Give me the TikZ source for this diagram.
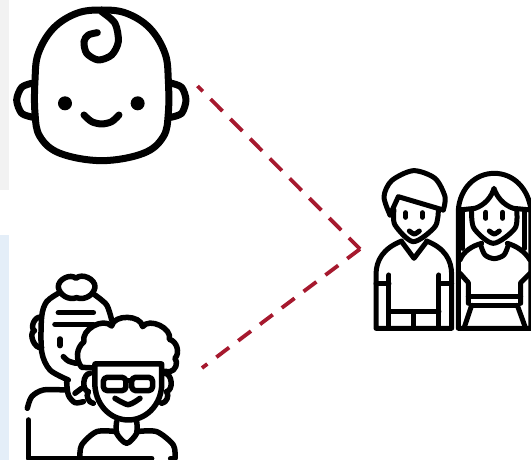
\documentclass[tikz,border=0pt]{standalone}
\usetikzlibrary{calc}
\definecolor{linkred}{HTML}{A6192E}
\definecolor{panelgrey}{HTML}{F2F2F2}
\definecolor{panelblue}{HTML}{E4EEF8}
\tikzset{
  iconline/.style={line width=#1,line cap=round,line join=round,black},
  iconline/.default=5.5pt,
  linkline/.style={linkred,line width=3.8pt}
}
\begin{document}
\begin{tikzpicture}[x=1pt,y=-1pt]
\useasboundingbox (0,0) rectangle (531,460);
\fill[panelgrey] (0,0) rectangle (9,190);
\fill[panelblue] (0,235) rectangle (9,460);
% baby
\begin{scope}[x=0.3333pt,y=-0.3333pt]
\draw[iconline=7pt] plot[smooth cycle,tension=0.62] coordinates {(105,240) (115,160) (160,85) (230,40) (305,30) (380,40) (450,85) (495,160) (505,240) (505,340) (490,410) (430,460) (305,482) (180,460) (120,410) (105,340)};
\draw[iconline=7pt] plot[smooth] coordinates {(95,250) (65,262) (50,300) (65,340) (100,352)};
\draw[iconline=7pt] plot[smooth] coordinates {(515,250) (545,262) (558,300) (545,340) (512,352)};
\draw[iconline=7pt] plot[smooth] coordinates {(305,35) (345,70) (355,125) (335,165) (295,180) (260,160) (252,125) (265,105) (292,98)};
\fill (195,310) circle (21);
\fill (413,310) circle (21);
\draw[iconline=7pt] plot[smooth] coordinates {(252,345) (275,365) (305,372) (335,365) (357,345)};
\end{scope}
% grandmother and child
\begin{scope}[x=0.3333pt,y=-0.3333pt,yshift=-230pt]
\draw[iconline] (175,172) to[bend left=70] (228,145) to[bend left=70] (285,172) to[bend left=50] (230,203) to[bend left=50] cycle;
\draw[iconline] plot[smooth] coordinates {(175,190) (140,215) (125,260) (125,365) (150,420) (205,450)};
\draw[iconline] plot[smooth] coordinates {(285,195) (320,225) (335,270)};
\draw[iconline] (175,248) -- (280,248);
\draw[iconline] (165,283) -- (280,283);
\draw[iconline] (180,327) -- (180,347);
\draw[iconline] plot[smooth] coordinates {(190,380) (205,393) (228,400)};
\draw[iconline] (122,262) to[bend right=80] (103,302);
\draw[iconline] (103,302) to[bend right=90] (125,352);
\draw[iconline] plot[smooth] coordinates {(82,535) (95,500) (130,480) (195,480)};
\draw[iconline] (85,570) -- (85,685) -- (455,685);
\draw[iconline] (512,685) -- (525,685);
\draw[iconline] plot[smooth] coordinates {(200,455) (205,495) (225,518) (250,515)};
\draw[iconline] (245,475) -- (225,490);
% child hair
\draw[iconline,fill=white] (245,412) to[bend left=45] (252,335) to[bend left=75] (335,288) to[bend left=80] (428,290) to[bend left=80] (508,328) to[bend left=60] (525,385) to[bend left=60] (510,425) -- cycle;
\draw[iconline,fill=white] (285,402) -- (285,470) .. controls (290,530) and (335,570) .. (385,570) .. controls (435,570) and (480,530) .. (485,470) -- (485,402) -- cycle;
\draw[iconline] (270,430) to[bend right=80] (265,485);
\draw[iconline] (265,485) to[bend right=60] (280,520);
\draw[iconline] (495,430) to[bend left=80] (500,485);
\draw[iconline] (500,485) to[bend left=60] (485,520);
\draw[iconline,rounded corners=4pt] (310,442) rectangle (378,482);
\draw[iconline,rounded corners=4pt] (395,442) rectangle (458,482);
\draw[iconline] (378,452) -- (395,452);
\draw[iconline] plot[smooth] coordinates {(345,505) (385,524) (420,505)};
\draw[iconline] plot[smooth] coordinates {(350,575) (350,610) (380,640) (410,610) (410,575)};
\draw[iconline] plot[smooth] coordinates {(240,685) (245,645) (290,605) (350,605)};
\draw[iconline] plot[smooth] coordinates {(410,605) (470,605) (520,645) (525,685)};
\end{scope}
% couple
\begin{scope}[x=0.3333pt,y=-0.3333pt,xshift=360pt,yshift=-160pt]
\draw[iconline=5pt] plot[smooth] coordinates {(90,165) (72,110) (95,62) (160,32) (225,55) (255,110) (250,150)};
\draw[iconline=5pt] (90,165) -- (115,110) -- (250,150);
\draw[iconline=5pt] plot[smooth] coordinates {(102,150) (105,195) (160,245) (225,200) (235,150)};
\draw[iconline=5pt] (137,158) -- (137,172);
\draw[iconline=5pt] (187,158) -- (187,172);
\draw[iconline=5pt] plot[smooth] coordinates {(148,213) (163,222) (178,213)};
\draw[iconline=5pt] (125,243) .. controls (70,265) and (48,300) .. (48,345) -- (48,505) -- (275,505) -- (275,345) .. controls (275,300) and (255,265) .. (200,243);
\draw[iconline=5pt] (125,245) -- (162,295) -- (200,245);
\draw[iconline=5pt] (87,345) -- (87,505);
\draw[iconline=5pt] (237,345) -- (237,505);
\draw[iconline=5pt] (48,372) -- (87,372);
\draw[iconline=5pt] (237,372) -- (275,372);
\draw[iconline=5pt] (87,455) -- (237,455);
\draw[iconline=5pt] (162,455) -- (162,505);
% woman
\draw[iconline=5pt] (295,505) -- (295,150) .. controls (300,85) and (345,40) .. (403,40) .. controls (460,40) and (505,85) .. (513,150) -- (513,505) -- cycle;
\draw[iconline=5pt] (297,150) -- (345,145) .. controls (375,135) and (395,110) .. (402,85) .. controls (410,110) and (430,135) .. (460,145) -- (513,150);
\draw[iconline=5pt] plot[smooth] coordinates {(335,150) (342,205) (400,250) (465,205) (470,150)};
\draw[iconline=5pt] (378,157) -- (378,175);
\draw[iconline=5pt] (428,157) -- (428,175);
\draw[iconline=5pt] plot[smooth] coordinates {(388,213) (403,222) (418,213)};
\draw[iconline=5pt] (308,150) -- (308,265);
\draw[iconline=5pt] (495,150) -- (495,265);
\draw[iconline=5pt] plot[smooth] coordinates {(362,255) (375,285) (403,296) (432,285) (445,255)};
\draw[iconline=5pt] (300,300) .. controls (310,275) and (335,258) .. (365,250);
\draw[iconline=5pt] (510,300) .. controls (495,275) and (470,258) .. (442,250);
\draw[iconline=5pt] (300,340) -- (325,368) -- (325,430);
\draw[iconline=5pt] (510,340) -- (482,368) -- (482,430);
\draw[iconline=5pt] (325,410) -- (482,410);
\draw[iconline=5pt] (335,436) -- (472,436);
\draw[iconline=5pt] (335,436) -- (312,505);
\draw[iconline=5pt] (472,436) -- (497,505);
\end{scope}
% dashed link
\coordinate (babyend) at (197.5,86);
\coordinate (meet) at (360,249);
\coordinate (elderend) at (202,368);
\draw[linkline,dash pattern=on 17pt off 11pt,dash phase=9.5pt] (babyend) -- (meet);
\draw[linkline,dash pattern=on 16pt off 11.3pt] (meet) -- (elderend);
\end{tikzpicture}
\end{document}
